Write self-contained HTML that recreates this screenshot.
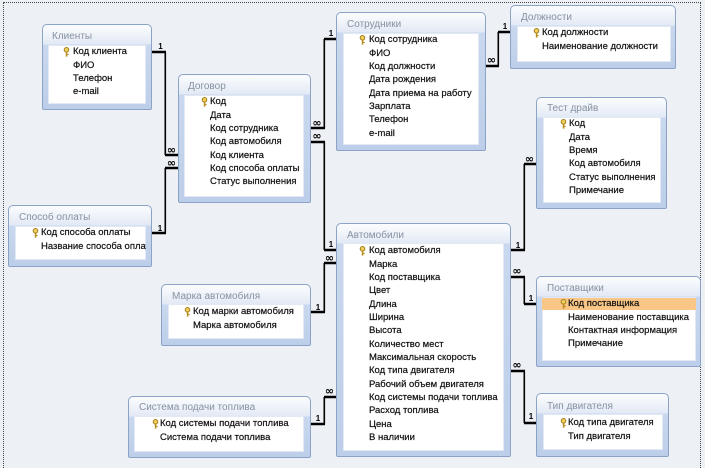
<!DOCTYPE html>
<html><head><meta charset="utf-8">
<style>
html,body{margin:0;padding:0;}
body{width:705px;height:468px;position:relative;overflow:hidden;background:#edf0f4;font-family:"Liberation Sans","Noto Sans CJK SC",sans-serif;}
.frame{position:absolute;left:3px;top:2px;width:698px;height:466px;border:1px dotted #444;border-bottom:none;box-sizing:border-box;}
.box{position:absolute;box-sizing:border-box;border:1px solid #8ca3c5;border-radius:5px 5px 2px 2px;background:linear-gradient(to bottom,#fbfcfe 0px,#e3eaf5 19px,#c9d8ee 20px,#bccee9 100%);}
.wh{position:absolute;background:#fff;overflow:hidden;box-shadow:inset 0 0 0 1px #e2e9f4;}
.ti{position:absolute;font-size:10px;color:#8691a1;line-height:12px;white-space:nowrap;}
.rows{position:absolute;font-size:9.5px;color:#111;white-space:nowrap;-webkit-text-stroke:0.2px #111;}
.rows div{height:13.33px;line-height:13.33px;}
.key{position:absolute;width:7px;height:10px;}
.hl{position:absolute;left:0;top:1px;width:100%;height:12px;background:#f9c686;}
svg.conn{position:absolute;left:0;top:0;}
</style></head><body>
<div class="frame"></div>

<!-- Клиенты -->
<div class="box" style="left:42px;top:24px;width:110px;height:86px"></div>
<div class="ti" style="left:52px;top:31px">Клиенты</div>
<div class="wh" style="left:48px;top:45px;width:98px;height:59px">
<svg class="key" style="left:15px;top:2px" viewBox="0 0 7 10"><circle cx="3.5" cy="2.8" r="2.3" fill="#f0cf5a" stroke="#a07d1c" stroke-width="1"/><rect x="2.8" y="4.8" width="1.6" height="4.8" fill="#b88d1e"/><rect x="4.2" y="7" width="1.5" height="1" fill="#b88d1e"/></svg>
<div class="rows" style="left:25px;top:0.33px"><div>Код клиента</div><div>ФИО</div><div>Телефон</div><div>e-mail</div></div>
</div>

<!-- Договор -->
<div class="box" style="left:178px;top:74px;width:133px;height:129px"></div>
<div class="ti" style="left:188px;top:81px">Договор</div>
<div class="wh" style="left:184px;top:95px;width:120px;height:102px">
<svg class="key" style="left:17px;top:2px" viewBox="0 0 7 10"><circle cx="3.5" cy="2.8" r="2.3" fill="#f0cf5a" stroke="#a07d1c" stroke-width="1"/><rect x="2.8" y="4.8" width="1.6" height="4.8" fill="#b88d1e"/><rect x="4.2" y="7" width="1.5" height="1" fill="#b88d1e"/></svg>
<div class="rows" style="left:26px;top:0.33px"><div>Код</div><div>Дата</div><div>Код сотрудника</div><div>Код автомобиля</div><div>Код клиента</div><div>Код способа оплаты</div><div>Статус выполнения</div></div>
</div>

<!-- Сотрудники -->
<div class="box" style="left:336px;top:12px;width:150px;height:139px"></div>
<div class="ti" style="left:347px;top:19px">Сотрудники</div>
<div class="wh" style="left:343px;top:33px;width:136px;height:112px">
<svg class="key" style="left:16px;top:2px" viewBox="0 0 7 10"><circle cx="3.5" cy="2.8" r="2.3" fill="#f0cf5a" stroke="#a07d1c" stroke-width="1"/><rect x="2.8" y="4.8" width="1.6" height="4.8" fill="#b88d1e"/><rect x="4.2" y="7" width="1.5" height="1" fill="#b88d1e"/></svg>
<div class="rows" style="left:26px;top:0.33px"><div>Код сотрудника</div><div>ФИО</div><div>Код должности</div><div>Дата рождения</div><div>Дата приема на работу</div><div>Зарплата</div><div>Телефон</div><div>e-mail</div></div>
</div>

<!-- Должности -->
<div class="box" style="left:510px;top:5px;width:166px;height:64px"></div>
<div class="ti" style="left:521px;top:12px">Должности</div>
<div class="wh" style="left:517px;top:26px;width:154px;height:36px">
<svg class="key" style="left:16px;top:2px" viewBox="0 0 7 10"><circle cx="3.5" cy="2.8" r="2.3" fill="#f0cf5a" stroke="#a07d1c" stroke-width="1"/><rect x="2.8" y="4.8" width="1.6" height="4.8" fill="#b88d1e"/><rect x="4.2" y="7" width="1.5" height="1" fill="#b88d1e"/></svg>
<div class="rows" style="left:25px;top:0.33px"><div>Код должности</div><div>Наименование должности</div></div>
</div>

<!-- Тест драйв -->
<div class="box" style="left:536px;top:97px;width:131px;height:112px"></div>
<div class="ti" style="left:547px;top:103px">Тест драйв</div>
<div class="wh" style="left:543px;top:117px;width:118px;height:86px">
<svg class="key" style="left:17px;top:2px" viewBox="0 0 7 10"><circle cx="3.5" cy="2.8" r="2.3" fill="#f0cf5a" stroke="#a07d1c" stroke-width="1"/><rect x="2.8" y="4.8" width="1.6" height="4.8" fill="#b88d1e"/><rect x="4.2" y="7" width="1.5" height="1" fill="#b88d1e"/></svg>
<div class="rows" style="left:26px;top:0.33px"><div>Код</div><div>Дата</div><div>Время</div><div>Код автомобиля</div><div>Статус выполнения</div><div>Примечание</div></div>
</div>

<!-- Способ оплаты -->
<div class="box" style="left:8px;top:205px;width:144px;height:62px"></div>
<div class="ti" style="left:19px;top:212px">Способ оплаты</div>
<div class="wh" style="left:15px;top:226px;width:131px;height:34px">
<svg class="key" style="left:17px;top:2px" viewBox="0 0 7 10"><circle cx="3.5" cy="2.8" r="2.3" fill="#f0cf5a" stroke="#a07d1c" stroke-width="1"/><rect x="2.8" y="4.8" width="1.6" height="4.8" fill="#b88d1e"/><rect x="4.2" y="7" width="1.5" height="1" fill="#b88d1e"/></svg>
<div class="rows" style="left:26px;top:0.33px"><div>Код способа оплаты</div><div>Название способа оплаты</div></div>
</div>

<!-- Автомобили -->
<div class="box" style="left:336px;top:223px;width:175px;height:234px"></div>
<div class="ti" style="left:347px;top:230px">Автомобили</div>
<div class="wh" style="left:343px;top:243px;width:161px;height:208px">
<svg class="key" style="left:16px;top:3px" viewBox="0 0 7 10"><circle cx="3.5" cy="2.8" r="2.3" fill="#f0cf5a" stroke="#a07d1c" stroke-width="1"/><rect x="2.8" y="4.8" width="1.6" height="4.8" fill="#b88d1e"/><rect x="4.2" y="7" width="1.5" height="1" fill="#b88d1e"/></svg>
<div class="rows" style="left:26px;top:1.33px"><div>Код автомобиля</div><div>Марка</div><div>Код поставщика</div><div>Цвет</div><div>Длина</div><div>Ширина</div><div>Высота</div><div>Количество мест</div><div>Максимальная скорость</div><div>Код типа двигателя</div><div>Рабочий объем двигателя</div><div>Код системы подачи топлива</div><div>Расход топлива</div><div>Цена</div><div>В наличии</div></div>
</div>

<!-- Поставщики -->
<div class="box" style="left:536px;top:276px;width:165px;height:91px"></div>
<div class="ti" style="left:547px;top:283px">Поставщики</div>
<div class="wh" style="left:542px;top:297px;width:154px;height:64px">
<div class="hl"></div>
<svg class="key" style="left:18px;top:2px" viewBox="0 0 7 10"><circle cx="3.5" cy="2.8" r="2.3" fill="#f0cf5a" stroke="#a07d1c" stroke-width="1"/><rect x="2.8" y="4.8" width="1.6" height="4.8" fill="#b88d1e"/><rect x="4.2" y="7" width="1.5" height="1" fill="#b88d1e"/></svg>
<div class="rows" style="left:26px;top:0.33px"><div>Код поставщика</div><div>Наименование поставщика</div><div>Контактная информация</div><div>Примечание</div></div>
</div>

<!-- Тип двигателя -->
<div class="box" style="left:536px;top:393px;width:133px;height:64px"></div>
<div class="ti" style="left:547px;top:401px">Тип двигателя</div>
<div class="wh" style="left:543px;top:414px;width:120px;height:36px">
<svg class="key" style="left:17px;top:4px" viewBox="0 0 7 10"><circle cx="3.5" cy="2.8" r="2.3" fill="#f0cf5a" stroke="#a07d1c" stroke-width="1"/><rect x="2.8" y="4.8" width="1.6" height="4.8" fill="#b88d1e"/><rect x="4.2" y="7" width="1.5" height="1" fill="#b88d1e"/></svg>
<div class="rows" style="left:25px;top:2.33px"><div>Код типа двигателя</div><div>Тип двигателя</div></div>
</div>

<!-- Марка автомобиля -->
<div class="box" style="left:161px;top:284px;width:150px;height:62px"></div>
<div class="ti" style="left:172px;top:291px">Марка автомобиля</div>
<div class="wh" style="left:168px;top:304px;width:136px;height:35px">
<svg class="key" style="left:16px;top:3px" viewBox="0 0 7 10"><circle cx="3.5" cy="2.8" r="2.3" fill="#f0cf5a" stroke="#a07d1c" stroke-width="1"/><rect x="2.8" y="4.8" width="1.6" height="4.8" fill="#b88d1e"/><rect x="4.2" y="7" width="1.5" height="1" fill="#b88d1e"/></svg>
<div class="rows" style="left:25px;top:1.33px"><div>Код марки автомобиля</div><div>Марка автомобиля</div></div>
</div>

<!-- Система подачи топлива -->
<div class="box" style="left:128px;top:396px;width:183px;height:62px"></div>
<div class="ti" style="left:139px;top:402px">Система подачи топлива</div>
<div class="wh" style="left:134px;top:416px;width:170px;height:36px">
<svg class="key" style="left:18px;top:3px" viewBox="0 0 7 10"><circle cx="3.5" cy="2.8" r="2.3" fill="#f0cf5a" stroke="#a07d1c" stroke-width="1"/><rect x="2.8" y="4.8" width="1.6" height="4.8" fill="#b88d1e"/><rect x="4.2" y="7" width="1.5" height="1" fill="#b88d1e"/></svg>
<div class="rows" style="left:26px;top:1.33px"><div>Код системы подачи топлива</div><div>Система подачи топлива</div></div>
</div>

<svg class="conn" width="705" height="468" viewBox="0 0 705 468">
<g stroke="#000" fill="none" stroke-width="2.6">
<path d="M152,52H166 M165,155H178"/>
<path d="M152,233H166 M165,168H178"/>
<path d="M311,128H325 M324,39H336"/>
<path d="M311,142H325 M324,250H336"/>
<path d="M486,66H499 M498,32H510"/>
<path d="M511,250H525 M524,164H536"/>
<path d="M511,277H525 M524,304H536"/>
<path d="M511,371H525 M524,423H536"/>
<path d="M311,312H325 M324,263H336"/>
<path d="M311,424H325 M324,397H336"/>
</g>
<g stroke="#000" fill="none" stroke-width="1.6">
<path d="M165.3,52V155"/>
<path d="M165.3,168V233"/>
<path d="M324.3,39V128"/>
<path d="M324.3,142V250"/>
<path d="M498.3,32V66"/>
<path d="M524.3,164V250"/>
<path d="M524.3,277V304"/>
<path d="M524.3,371V423"/>
<path d="M324.3,263V312"/>
<path d="M324.3,397V424"/>
</g>
<g font-family="Liberation Sans, sans-serif" font-weight="bold" font-size="8" fill="#000" text-anchor="middle">
<text x="160.5" y="49">1</text>
<text x="160" y="231">1</text>
<text x="331" y="36">1</text>
<text x="331" y="247">1</text>
<text x="505" y="29">1</text>
<text x="518" y="248">1</text>
<text x="531" y="301">1</text>
<text x="531" y="419">1</text>
<text x="318" y="310">1</text>
<text x="318" y="421">1</text>
</g>
<g font-family="DejaVu Sans, sans-serif" font-weight="bold" font-size="11" fill="#000" text-anchor="middle">
<text x="171.5" y="153.5">∞</text>
<text x="171.5" y="166.5">∞</text>
<text x="317" y="126.5">∞</text>
<text x="317" y="139.5">∞</text>
<text x="491.5" y="63.5">∞</text>
<text x="529.5" y="162.5">∞</text>
<text x="517" y="274.5">∞</text>
<text x="517" y="368.5">∞</text>
<text x="329.5" y="261.5">∞</text>
<text x="329.5" y="394.5">∞</text>
</g>
</svg>
</body></html>
